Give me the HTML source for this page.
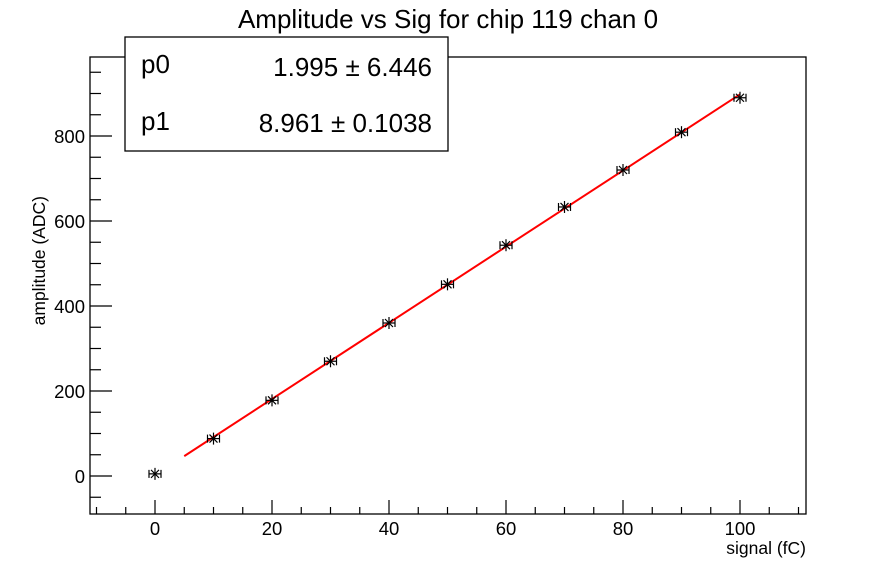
<!DOCTYPE html>
<html><head><style>body{margin:0;background:#fff}svg{display:block}</style></head><body>
<svg width="896" height="572" xmlns="http://www.w3.org/2000/svg" font-family="Liberation Sans, sans-serif">
<rect width="896" height="572" fill="#fff"/>
<text x="448" y="28" text-anchor="middle" font-size="26">Amplitude vs Sig for chip 119 chan 0</text>
<rect x="90" y="57" width="716" height="457" fill="none" stroke="#000" stroke-width="1.3"/>
<g stroke="#000" stroke-width="1.2" id="t"></g>
<g font-size="18.5" id="l"></g>
<text x="806" y="554" text-anchor="end" font-size="17.5">signal (fC)</text>
<text transform="translate(45,196) rotate(-90)" text-anchor="end" font-size="17.5">amplitude (ADC)</text>
<polyline id="fit" fill="none" stroke="#f00" stroke-width="2"/>
<g id="pts" stroke="#000" stroke-width="1.2"></g>
<rect x="125" y="37" width="323" height="114" fill="#fff" stroke="#000" stroke-width="1.3"/>
<text x="141" y="73" font-size="26">p0</text>
<text x="432" y="76" font-size="26" text-anchor="end">1.995 ± 6.446</text>
<text x="141" y="130" font-size="26">p1</text>
<text x="432" y="132" font-size="26" text-anchor="end">8.961 ± 0.1038</text>
<script>
var ns="http://www.w3.org/2000/svg";
function X(v){return 155+v*5.85}function Y(v){return 476-v*0.425}
var t=document.getElementById('t'),l=document.getElementById('l');
function ln(g,a,b,c,d){var e=document.createElementNS(ns,'line');e.setAttribute('x1',a);e.setAttribute('y1',b);e.setAttribute('x2',c);e.setAttribute('y2',d);g.appendChild(e)}
function tx(x,y,str,anc){var e=document.createElementNS(ns,'text');e.setAttribute('x',x);e.setAttribute('y',y);e.setAttribute('text-anchor',anc);e.textContent=str;l.appendChild(e)}
for(var v=-10;v<=110;v+=5){var x=X(v),m=v%20==0;ln(t,x,514,x,514-(m?14:7));if(m)tx(x,535,v,'middle')}
for(var v=-50;v<=950;v+=50){var y=Y(v),m=v%200==0;ln(t,90,y,90+(m?22:11),y);if(m)tx(85,y+7,v,'end')}
var f=document.getElementById('fit');f.setAttribute('points',X(5)+','+Y(1.995+8.961*5)+' '+X(100)+','+Y(1.995+896.1));
var d=[[0,5],[10,88],[20,178],[30,270],[40,360],[50,451],[60,543],[70,633],[80,720],[90,809],[100,890]];
var p=document.getElementById('pts');
d.forEach(function(q){var x=X(q[0]),y=Y(q[1]);ln(p,x-6,y,x+6,y);ln(p,x-6,y-4,x-6,y+4);ln(p,x+6,y-4,x+6,y+4);ln(p,x,y-6,x,y+6);ln(p,x-4,y-4,x+4,y+4);ln(p,x-4,y+4,x+4,y-4)});
</script>
</svg>
</body></html>
